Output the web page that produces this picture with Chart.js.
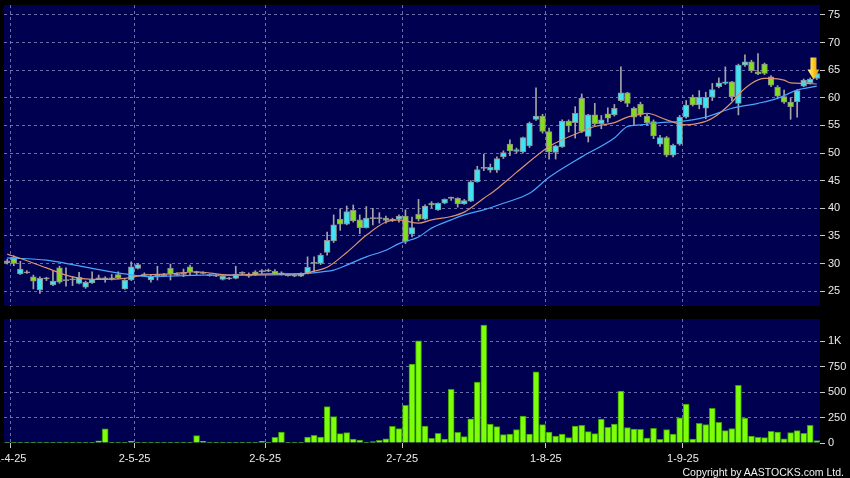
<!DOCTYPE html>
<html>
<head>
<meta charset="utf-8">
<script src="https://cdn.jsdelivr.net/npm/chart.js"></script>
<style>
  html, body { margin: 0; padding: 0; background: #000; }
  #wrap { position: relative; width: 850px; height: 478px; background: #000; overflow: hidden; }
  #priceChart { position: absolute; left: 0; top: 0; }
  #volumeChart { position: absolute; left: 0; top: 312px; }
  #copy { position: absolute; right: 6px; top: 466px; font: 10.5px "Liberation Sans", Arial, sans-serif; color: #f2f2f2; }
</style>
</head>
<body>
<div id="wrap">
  <canvas id="priceChart" width="850" height="312"></canvas>
  <canvas id="volumeChart" width="850" height="166"></canvas>
  <div id="copy">Copyright by AASTOCKS.com Ltd.</div>
</div>
<script>
'use strict';

//trading days shown, month by month (31-3-25 .. 29-9-25)
const marDays = [31];
const aprDays = [1, 2, 3, 7, 8, 9, 10, 11, 14, 15, 16, 17, 22, 23, 24, 25, 28, 29, 30];
const mayDays = [2, 6, 7, 8, 9, 12, 13, 14, 15, 16, 19, 20, 21, 22, 23, 26, 27, 28, 29, 30];
const junDays = [2, 3, 4, 5, 6, 9, 10, 11, 12, 13, 16, 17, 18, 19, 20, 23, 24, 25, 26, 27, 30];
const julDays = [2, 3, 4, 7, 8, 9, 10, 11, 14, 15, 16, 17, 18, 21, 22, 23, 24, 25, 28, 29, 30, 31];
const augDays = [1, 4, 5, 6, 7, 8, 11, 12, 13, 14, 15, 18, 19, 20, 21, 22, 25, 26, 27, 28, 29];
const sepDays = [1, 2, 3, 4, 5, 8, 9, 10, 11, 12, 15, 16, 17, 18, 19, 22, 23, 24, 25, 26, 29];

//tick labels
const monthLabels = ['1-4-25', '2-5-25', '2-6-25', '2-7-25', '1-8-25', '1-9-25'];
const priceTicks = [25, 30, 35, 40, 45, 50, 55, 60, 65, 70, 75];
const volumeTicks = [0, 250, 500, 750, 1000];
const volumeTickLabels = ['0', '250', '500', '750', '1K'];

//daily prices
const open = [30.1, 31.1, 28.1, 28.4, 27.6, 25.2, 27.3, 26.1, 29.2, 27.0,
  27.1, 26.4, 25.7, 26.5, 27.3, 27.3, 27.3, 28.0, 25.4, 27.0,
  29.1, 28.0, 27.0, 27.8, 27.9, 29.1, 28.0, 28.1, 29.4, 28.4,
  28.3, 27.9, 27.8, 27.1, 27.3, 27.3, 28.3, 28.1, 28.5, 28.6,
  28.7, 28.6, 28.3, 27.9, 27.8, 27.7, 28.2, 30.1, 30.0, 32.0,
  34.1, 38.0, 37.1, 39.6, 37.9, 36.5, 38.2, 38.2, 38.2, 37.9,
  38.0, 38.6, 35.3, 38.9, 38.0, 40.9, 39.7, 40.9, 41.9, 41.8,
  40.8, 41.3, 44.8, 47.3, 46.9, 46.9, 49.3, 51.6, 50.3, 50.2,
  51.3, 56.1, 56.7, 53.9, 50.1, 51.1, 55.8, 55.5, 59.9, 53.0,
  56.9, 55.3, 57.1, 56.9, 59.5, 60.9, 58.1, 58.8, 56.7, 55.7,
  51.6, 52.8, 49.6, 51.6, 56.5, 60.1, 58.7, 58.1, 60.1, 62.0,
  62.6, 62.9, 59.0, 65.9, 66.5, 64.7, 66.1, 63.8, 61.9, 60.2,
  59.2, 59.3, 62.1, 62.7, 63.5];
const high = [30.8, 31.4, 30.4, 28.7, 27.9, 27.6, 27.5, 28.6, 29.5, 29.2,
  27.6, 28.4, 26.8, 28.5, 27.9, 27.6, 28.0, 28.5, 27.1, 30.3,
  30.0, 28.3, 27.9, 29.5, 28.2, 29.9, 28.3, 29.0, 29.7, 28.6,
  28.5, 28.1, 28.0, 27.8, 27.5, 29.5, 28.5, 28.3, 28.7, 28.9,
  29.0, 28.9, 28.5, 28.1, 28.0, 28.3, 31.2, 31.2, 31.8, 35.7,
  38.8, 39.9, 40.4, 40.6, 38.8, 40.3, 40.0, 39.2, 38.6, 38.2,
  38.8, 39.7, 38.4, 41.6, 40.6, 41.2, 41.0, 41.7, 42.0, 41.9,
  41.6, 45.0, 47.6, 49.8, 48.0, 49.3, 50.4, 52.4, 50.9, 52.9,
  55.6, 61.8, 57.0, 54.5, 51.4, 56.0, 56.0, 58.4, 60.7, 57.0,
  59.0, 56.8, 58.2, 58.8, 65.6, 61.0, 58.3, 59.2, 57.0, 56.0,
  53.2, 53.0, 51.6, 56.8, 59.5, 60.5, 61.3, 61.0, 62.6, 63.6,
  65.6, 63.0, 66.1, 67.8, 66.8, 68.0, 66.3, 64.0, 62.2, 61.4,
  60.0, 61.5, 63.4, 63.6, 64.6];
const low = [29.9, 29.6, 28.0, 28.2, 25.4, 24.6, 26.9, 26.0, 26.4, 25.9,
  26.0, 26.3, 25.5, 26.4, 27.1, 26.6, 27.0, 27.2, 25.3, 26.9,
  29.0, 27.8, 26.6, 27.0, 27.6, 27.0, 27.8, 27.6, 27.9, 28.0,
  28.1, 27.7, 27.6, 27.0, 27.1, 27.2, 28.0, 27.5, 27.8, 28.2,
  28.5, 28.0, 27.9, 27.7, 27.6, 27.6, 28.1, 28.5, 29.8, 31.5,
  33.8, 36.0, 37.0, 37.5, 35.4, 36.4, 37.0, 37.3, 37.3, 37.6,
  37.5, 33.6, 34.8, 37.7, 37.9, 40.1, 39.6, 40.8, 41.4, 40.2,
  40.7, 41.2, 44.7, 46.8, 46.5, 46.5, 49.0, 49.5, 50.0, 50.0,
  51.0, 55.9, 53.6, 48.9, 48.9, 51.0, 53.8, 52.7, 53.7, 52.0,
  55.0, 54.4, 55.6, 56.7, 59.3, 58.4, 55.1, 56.6, 55.0, 52.6,
  51.2, 49.3, 49.3, 51.4, 56.3, 58.5, 58.0, 56.2, 59.5, 61.8,
  62.4, 59.5, 56.9, 65.7, 64.6, 64.2, 64.2, 62.0, 60.0, 59.0,
  56.1, 56.5, 62.0, 62.5, 63.3];
const close = [30.5, 30.0, 29.0, 28.4, 26.8, 27.3, 27.3, 26.8, 26.6, 27.0,
  27.1, 27.5, 26.6, 27.1, 27.3, 27.3, 27.3, 27.4, 27.0, 29.4,
  29.8, 28.0, 27.7, 27.8, 27.9, 28.1, 28.0, 28.1, 28.5, 28.4,
  28.3, 27.9, 27.8, 27.7, 27.3, 28.1, 28.3, 27.7, 27.9, 28.6,
  28.7, 28.1, 28.0, 27.9, 27.8, 28.2, 29.3, 30.1, 31.5, 34.2,
  37.0, 37.1, 39.4, 37.7, 36.5, 38.2, 38.2, 38.2, 37.8, 37.9,
  38.6, 34.0, 36.5, 38.0, 40.4, 40.6, 40.9, 41.6, 41.9, 40.8,
  41.4, 44.8, 47.0, 47.3, 47.4, 49.0, 50.1, 50.4, 50.6, 52.8,
  55.4, 56.7, 53.9, 50.2, 51.3, 55.8, 54.9, 57.2, 53.9, 56.9,
  55.3, 56.0, 56.3, 58.1, 60.9, 59.0, 56.5, 57.0, 55.5, 53.1,
  52.8, 49.6, 51.4, 56.5, 58.7, 58.7, 60.1, 60.1, 61.5, 62.7,
  62.9, 60.2, 65.9, 66.5, 64.9, 64.3, 64.4, 62.3, 60.3, 59.2,
  58.4, 61.3, 63.2, 63.4, 64.4];

//daily volume, thousands
const volume = [3, 2, 4, 2, 6, 10, 2, 2, 8, 8,
  2, 2, 3, 6, 22, 140, 2, 2, 3, 18,
  3, 4, 3, 2, 2, 3, 3, 8, 3, 72,
  16, 2, 2, 4, 2, 2, 2, 2, 3, 16,
  2, 56, 108, 2, 2, 3, 59, 75, 59, 356,
  258, 92, 101, 39, 29, 4, 13, 26, 42, 163,
  141, 369, 775, 1003, 165, 46, 95, 39, 526, 105,
  62, 238, 598, 1157, 186, 160, 82, 88, 131, 265,
  88, 699, 180, 108, 69, 88, 52, 167, 173, 111,
  92, 235, 154, 186, 510, 150, 137, 134, 49, 144,
  36, 131, 88, 248, 382, 39, 193, 180, 340, 203,
  121, 141, 565, 245, 69, 56, 52, 114, 108, 42,
  101, 121, 95, 173, 23];

//moving averages as [day index, value], read at points along each line
const maShort = [[0, 31.7], [3, 30.5], [6, 29.2], [9, 27.9], [12, 27.2], [15, 27.1], [18, 27.3],
  [21, 27.9], [25, 28.1], [29, 28.5], [34, 27.9], [40, 28.1], [45, 28.1], [47, 28.6], [49, 29.3],
  [52, 32.0], [55, 35.1], [58, 37.5], [60, 37.9], [61, 37.7], [63, 37.3], [65, 37.9], [68, 38.5],
  [70, 39.3], [73, 41.8], [75, 43.5], [78, 46.5], [83, 51.2], [85, 52.4], [88, 53.9], [90, 54.8],
  [93, 55.5], [95, 56.5], [97, 57.0], [98, 57.2], [101, 56.0], [104, 55.1], [106, 55.4], [108, 56.3],
  [111, 59.2], [112, 60.6], [114, 62.6], [116, 63.5], [117, 63.5], [119, 63.2], [120, 62.7],
  [122, 62.6], [124, 62.5]];
const maLong = [[0, 31.0], [6, 30.6], [10, 29.8], [14, 28.9], [18, 28.1], [22, 27.6], [30, 27.9],
  [37, 27.9], [45, 28.1], [49, 28.6], [50, 28.8], [52, 29.7], [55, 31.2], [58, 32.4], [60, 33.6],
  [63, 34.8], [65, 36.4], [68, 37.9], [70, 38.8], [73, 39.7], [76, 40.9], [80, 42.7], [83, 45.6],
  [88, 49.3], [93, 52.7], [95, 54.8], [97, 55.1], [100, 55.5], [103, 55.7], [107, 56.5], [111, 58.1],
  [115, 59.0], [118, 59.9], [121, 61.4], [124, 62.1]];

//build the date labels from the month lists
const months = [[3, marDays], [4, aprDays], [5, mayDays], [6, junDays], [7, julDays], [8, augDays], [9, sepDays]];
const dates = [];
for (let [m, days] of months) {
  for (let d of days) {
    dates.push(`${d}-${m}-25`);
  }
}

const navy = '#000050';
const gridColor = 'rgba(135,135,190,0.8)';
const tickColor = '#c8c8c8';
const labelColor = '#ececec';
const upColor = '#3fe3f2';
const downColor = '#82dd1c';
const flatColor = '#a8a8a8';
const font = {family: '"Liberation Sans", Arial, sans-serif', size: 11};

Chart.defaults.animation = false;

//fills the plot area with navy before anything else is drawn
const panelBackground = {
  id: 'panelBackground',
  beforeDraw(chart) {
    const {ctx, chartArea: a} = chart;
    ctx.save();
    ctx.fillStyle = navy;
    ctx.fillRect(a.left, a.top, a.right - a.left, a.bottom - a.top);
    ctx.restore();
  }
};

//the gold marker arrow over the latest session
const latestArrow = {
  id: 'latestArrow',
  afterDatasetsDraw(chart) {
    const xs = chart.scales.x;
    const ys = chart.scales.y;
    const last = dates.length - 1;
    const tipX = (xs.getPixelForValue(last) + xs.getPixelForValue(last - 1)) / 2;
    const tipY = ys.getPixelForValue(close[last - 1]) + 0.5;
    const ctx = chart.ctx;
    ctx.save();
    const g = ctx.createLinearGradient(tipX - 6, 0, tipX + 6, 0);
    g.addColorStop(0, '#fff49a');
    g.addColorStop(0.45, '#ffd02a');
    g.addColorStop(1, '#e09000');
    ctx.fillStyle = g;
    ctx.beginPath();
    ctx.moveTo(tipX - 3, tipY - 22);
    ctx.lineTo(tipX + 3, tipY - 22);
    ctx.lineTo(tipX + 3, tipY - 10);
    ctx.lineTo(tipX + 6, tipY - 10);
    ctx.lineTo(tipX, tipY);
    ctx.lineTo(tipX - 6, tipY - 10);
    ctx.lineTo(tipX - 3, tipY - 10);
    ctx.closePath();
    ctx.fill();
    ctx.restore();
  }
};

//shared day axis: gridlines sit on the first session of each month
function dayAxis(showLabels) {
  return {
    type: 'linear',
    offset: false,
    min: -0.5,
    max: dates.length - 0.5,
    afterBuildTicks: function(scale) {
      scale.ticks = monthLabels.map(l => ({value: dates.indexOf(l) - 0.5}));
    },
    afterFit: function(scale) {
      scale.height = showLabels ? 35 : 0;
      scale.paddingLeft = 0;
      scale.paddingRight = 0;
    },
    grid: {offset: false, color: gridColor, lineWidth: 1, drawTicks: showLabels, tickLength: 5, tickColor: tickColor, borderDash: [3, 3]},
    border: {display: false, dash: [3, 3]},
    ticks: {
      display: showLabels, autoSkip: false, maxRotation: 0, minRotation: 0, padding: 4,
      color: labelColor, font: font,
      callback: (v, i) => monthLabels[i]
    }
  };
}

//right hand value axis
function valueAxis(min, max, ticks, labels) {
  return {
    position: 'right',
    min: min,
    max: max,
    afterBuildTicks: function(scale) {
      scale.ticks = ticks.map(v => ({value: v}));
    },
    afterFit: function(scale) {
      scale.width = 30;
      scale.paddingTop = 0;
      scale.paddingBottom = 0;
    },
    grid: {
      color: c => (c.tick && c.tick.value === 0) ? 'rgba(0,0,0,0)' : gridColor,
      lineWidth: 1, tickLength: 5, tickColor: tickColor, borderDash: [3, 3]
    },
    border: {display: false, dash: [3, 3]},
    ticks: {color: labelColor, font: font, padding: 3, callback: (v, i) => labels[i]}
  };
}

function main() {
  const idx = dates.map((d, i) => i);

  const wicks = idx.map(i => ({x: i, y: [low[i], high[i]]}));
  const bodies = idx.map(i => {
    if (open[i] === close[i]) {
      return {x: i, y: [open[i] - 0.1, open[i] + 0.1]};
    }
    return {x: i, y: [Math.min(open[i], close[i]), Math.max(open[i], close[i])]};
  });
  const bodyColors = idx.map(i => close[i] > open[i] ? upColor : (close[i] < open[i] ? downColor : flatColor));

  new Chart(document.getElementById('priceChart'), {
    type: 'bar',
    data: {
      datasets: [
        {
          type: 'line', data: maShort.map(p => ({x: p[0], y: p[1]})),
          borderColor: '#dc9470', borderWidth: 1.2, pointRadius: 0, cubicInterpolationMode: 'monotone', order: 0
        },
        {
          type: 'line', data: maLong.map(p => ({x: p[0], y: p[1]})),
          borderColor: '#48a6ff', borderWidth: 1.2, pointRadius: 0, cubicInterpolationMode: 'monotone', order: 0
        },
        {
          data: bodies, backgroundColor: bodyColors, borderColor: '#8e8e8e', borderWidth: 1,
          borderSkipped: false, barThickness: 5.8, grouped: false, order: 1
        },
        {
          data: wicks, backgroundColor: '#a4a4a4', borderWidth: 0,
          barThickness: 1, grouped: false, order: 2
        }
      ]
    },
    options: {
      responsive: false,
      layout: {autoPadding: false, padding: {left: 4, top: 5, right: 0, bottom: 6}},
      plugins: {legend: {display: false}, tooltip: {enabled: false}},
      scales: {
        x: dayAxis(false),
        y: valueAxis(22.3, 76.8, priceTicks, priceTicks.map(String))
      }
    },
    plugins: [panelBackground, latestArrow]
  });

  new Chart(document.getElementById('volumeChart'), {
    type: 'bar',
    data: {
      datasets: [{
        data: idx.map(i => ({x: i, y: volume[i]})),
        backgroundColor: '#7dff0a', borderColor: '#3a9a00', borderWidth: 1,
        barThickness: 6, grouped: false
      }]
    },
    options: {
      responsive: false,
      layout: {autoPadding: false, padding: {left: 4, top: 7, right: 0, bottom: 0}},
      plugins: {legend: {display: false}, tooltip: {enabled: false}},
      scales: {
        x: dayAxis(true),
        y: valueAxis(0, 1216, volumeTicks, volumeTickLabels)
      }
    },
    plugins: [panelBackground]
  });
}

main();
</script>
</body>
</html>
